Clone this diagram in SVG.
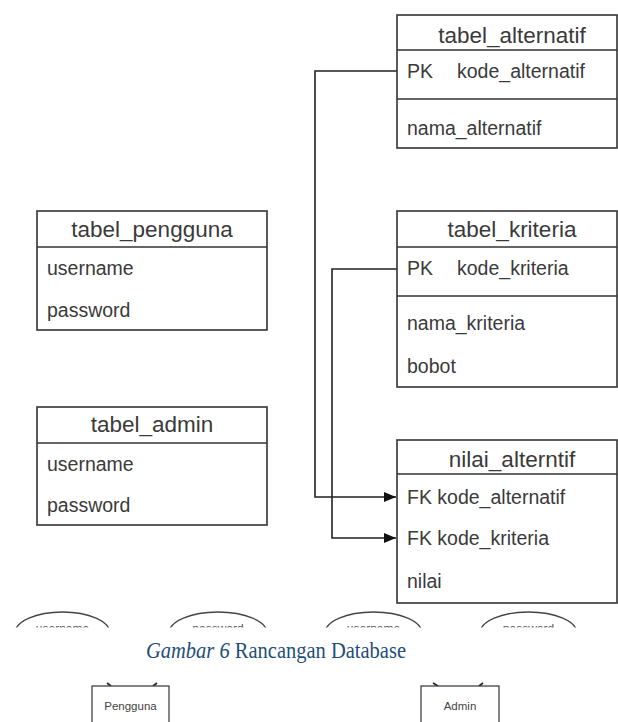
<svg xmlns="http://www.w3.org/2000/svg" width="618" height="722" viewBox="0 0 618 722">
<style>
.box{fill:#fff;stroke:#333;stroke-width:1.6}
.sep{stroke:#333;stroke-width:1.6;fill:none}
.hd{font-family:"Liberation Sans",Arial,sans-serif;font-size:22.5px;fill:#3a3a3a;text-anchor:middle}
.tx{font-family:"Liberation Sans",Arial,sans-serif;font-size:19.5px;fill:#3a3a3a}
.conn{fill:none;stroke:#222;stroke-width:1.6}
.ell{fill:#fff;stroke:#444;stroke-width:1.3}
.et{font-family:"Liberation Sans",Arial,sans-serif;font-size:12px;fill:#555;text-anchor:middle}
.sb{fill:#fff;stroke:#333;stroke-width:1.2}
.st{font-family:"Liberation Sans",Arial,sans-serif;font-size:11.5px;fill:#444;text-anchor:middle}
.cap{font-family:"Liberation Serif","Times New Roman",serif;font-size:20.5px;fill:#1f4e79;text-anchor:middle}
</style>
<defs>
<marker id="arr" markerWidth="12" markerHeight="10" refX="12" refY="5" orient="auto" markerUnits="userSpaceOnUse">
<path d="M0,0 L12,5 L0,10 z" fill="#111"/>
</marker>
<clipPath id="clipE"><rect x="0" y="600" width="618" height="27.5"/></clipPath>
</defs>

<g id="connectors">
<path class="conn" d="M397,71 H315 V497 H396" marker-end="url(#arr)"/>
<path class="conn" d="M397,269 H332 V538 H396" marker-end="url(#arr)"/>
</g>

<g id="tabel_alternatif">
<rect class="box" x="397" y="15" width="220" height="133"/>
<path class="sep" d="M397,50 H617 M397,99 H617"/>
<text class="hd" x="512" y="43">tabel_alternatif</text>
<text class="tx" x="407" y="78">PK</text>
<text class="tx" x="457" y="78">kode_alternatif</text>
<text class="tx" x="407" y="135">nama_alternatif</text>
</g>

<g id="tabel_kriteria">
<rect class="box" x="397" y="211" width="220" height="176"/>
<path class="sep" d="M397,247 H617 M397,296 H617"/>
<text class="hd" x="512" y="237">tabel_kriteria</text>
<text class="tx" x="407" y="275">PK</text>
<text class="tx" x="457" y="275">kode_kriteria</text>
<text class="tx" x="407" y="330">nama_kriteria</text>
<text class="tx" x="407" y="373">bobot</text>
</g>

<g id="nilai_alterntif">
<rect class="box" x="397" y="440" width="220" height="163"/>
<path class="sep" d="M397,474 H617"/>
<text class="hd" x="512" y="467">nilai_alterntif</text>
<text class="tx" x="407" y="504">FK kode_alternatif</text>
<text class="tx" x="407" y="545">FK kode_kriteria</text>
<text class="tx" x="407" y="588">nilai</text>
</g>

<g id="tabel_pengguna">
<rect class="box" x="37" y="211" width="230" height="119"/>
<path class="sep" d="M37,247 H267"/>
<text class="hd" x="152" y="237">tabel_pengguna</text>
<text class="tx" x="47" y="275">username</text>
<text class="tx" x="47" y="317">password</text>
</g>

<g id="tabel_admin">
<rect class="box" x="37" y="407" width="230" height="118"/>
<path class="sep" d="M37,443 H267"/>
<text class="hd" x="152" y="432">tabel_admin</text>
<text class="tx" x="47" y="471">username</text>
<text class="tx" x="47" y="512">password</text>
</g>

<g id="attr_username_1" clip-path="url(#clipE)">
<ellipse class="ell" cx="62.5" cy="633" rx="47.5" ry="21"/>
<text class="et" x="62.5" y="632.5">username</text>
</g>
<g id="attr_password_1" clip-path="url(#clipE)">
<ellipse class="ell" cx="218" cy="633" rx="49" ry="21"/>
<text class="et" x="218" y="632.5">password</text>
</g>
<g id="attr_username_2" clip-path="url(#clipE)">
<ellipse class="ell" cx="373.5" cy="633" rx="48.5" ry="21"/>
<text class="et" x="373.5" y="632.5">username</text>
</g>
<g id="attr_password_2" clip-path="url(#clipE)">
<ellipse class="ell" cx="528.5" cy="633" rx="48.5" ry="21"/>
<text class="et" x="528.5" y="632.5">password</text>
</g>

<g id="caption">
<text class="cap" transform="translate(276,658) scale(1,1.15)" x="0" y="0"><tspan font-style="italic">Gambar 6</tspan> Rancangan Database</text>
</g>

<g id="stubs">
<path class="conn" stroke-width="1" d="M107,683 L111,686 M157,683 L153,686 M433,683 L438,686 M483,683 L479,686"/>
</g>

<g id="Pengguna">
<rect class="sb" x="92" y="686" width="77" height="50"/>
<text class="st" x="130.5" y="710">Pengguna</text>
</g>

<g id="Admin">
<rect class="sb" x="421" y="686" width="78" height="50"/>
<text class="st" x="460" y="710">Admin</text>
</g>
</svg>
